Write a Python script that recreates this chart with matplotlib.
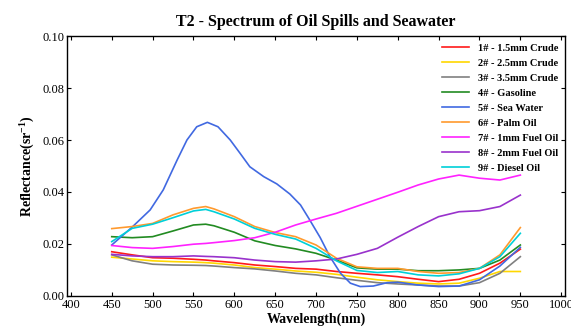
import numpy as np
import matplotlib
matplotlib.use('Agg')
import matplotlib.pyplot as plt

plt.rcParams['font.family'] = ['Liberation Serif', 'DejaVu Serif']
plt.rcParams['mathtext.fontset'] = 'custom'
plt.rcParams['mathtext.rm'] = 'Liberation Serif:bold'
plt.rcParams['mathtext.bf'] = 'Liberation Serif:bold'

wavelength = [450, 475, 500, 525, 550, 565, 575, 600, 625, 650, 675,
              700, 725, 750, 775, 800, 825, 850, 875, 900, 925, 950]

crude_15 = [0.0170, 0.0158, 0.0147, 0.0145, 0.0141, 0.0138, 0.0135, 0.0128, 0.0119, 0.0113, 0.0106,
            0.0103, 0.0094, 0.0087, 0.0081, 0.0074, 0.0064, 0.0055, 0.0064, 0.0087, 0.0126, 0.0180]
crude_25 = [0.0149, 0.0142, 0.0135, 0.0132, 0.0130, 0.0128, 0.0126, 0.0119, 0.0109, 0.0103, 0.0096,
            0.0091, 0.0083, 0.0072, 0.0062, 0.0055, 0.0049, 0.0046, 0.0049, 0.0068, 0.0094, 0.0094]
crude_35 = [0.0158, 0.0135, 0.0122, 0.0119, 0.0118, 0.0117, 0.0115, 0.0109, 0.0104, 0.0096, 0.0087,
            0.0081, 0.0070, 0.0060, 0.0051, 0.0046, 0.0042, 0.0038, 0.0038, 0.0051, 0.0087, 0.0151]
gasoline = [0.0228, 0.0224, 0.0228, 0.0250, 0.0273, 0.0276, 0.0270, 0.0245, 0.0212, 0.0194, 0.0181,
            0.0164, 0.0138, 0.0108, 0.0103, 0.0103, 0.0097, 0.0097, 0.0100, 0.0106, 0.0138, 0.0196]
palm_oil = [0.0259, 0.0267, 0.0279, 0.0312, 0.0337, 0.0344, 0.0335, 0.0305, 0.0267, 0.0244, 0.0228,
            0.0196, 0.0145, 0.0112, 0.0106, 0.0106, 0.0094, 0.0087, 0.0090, 0.0106, 0.0158, 0.0263]
fuel_1mm = [0.0194, 0.0186, 0.0183, 0.0190, 0.0199, 0.0202, 0.0205, 0.0213, 0.0224, 0.0245, 0.0273,
            0.0296, 0.0318, 0.0345, 0.0372, 0.0399, 0.0427, 0.0450, 0.0465, 0.0453, 0.0446, 0.0465]
fuel_2mm = [0.0160, 0.0154, 0.0151, 0.0151, 0.0154, 0.0152, 0.0151, 0.0147, 0.0138, 0.0132, 0.0130,
            0.0135, 0.0142, 0.0160, 0.0183, 0.0226, 0.0267, 0.0305, 0.0324, 0.0328, 0.0344, 0.0388]
diesel = [0.0209, 0.0260, 0.0276, 0.0301, 0.0327, 0.0333, 0.0324, 0.0296, 0.0260, 0.0237, 0.0219,
          0.0183, 0.0135, 0.0098, 0.0090, 0.0094, 0.0081, 0.0077, 0.0085, 0.0106, 0.0151, 0.0241]

# sea water read at its own, denser set of wavelengths (sharp peak)
sea_wl = [450, 475, 497, 513, 530, 542, 554, 567, 580, 595, 607, 619, 636, 652, 668, 681,
          691, 705, 717, 730, 742, 754, 770, 787, 800, 825, 850, 875, 900, 925, 950]
sea_water = [0.0196, 0.0265, 0.0331, 0.0408, 0.0523, 0.0600, 0.0651, 0.0668, 0.0651, 0.0600,
             0.0549, 0.0497, 0.0459, 0.0431, 0.0392, 0.0350, 0.0299, 0.0225, 0.0151, 0.0087,
             0.0049, 0.0036, 0.0038, 0.0051, 0.0053, 0.0042, 0.0036, 0.0038, 0.0062, 0.0115, 0.0187]

labels = ['1# - 1.5mm Crude', '2# - 2.5mm Crude', '3# - 3.5mm Crude', '4# - Gasoline',
          '5# - Sea Water', '6# - Palm Oil', '7# - 1mm Fuel Oil', '8# - 2mm Fuel Oil', '9# - Diesel Oil']
series = [crude_15, crude_25, crude_35, gasoline, sea_water, palm_oil, fuel_1mm, fuel_2mm, diesel]
xs = [wavelength] * 4 + [sea_wl] + [wavelength] * 4
colors = ['#ff1a1a', '#ffd700', '#808080', '#228b22', '#4169e1', '#ff9a2e', '#ff22ff', '#9932cc', '#00d0d8']

fig = plt.figure(figsize=(5.71, 3.31), dpi=100)
ax = fig.add_axes([0.117, 0.106, 0.873, 0.785])

for x, vals, lab, col in zip(xs, series, labels, colors):
    ax.plot(x, vals, color=col, lw=1.2, label=lab)

ax.set_xlim(395, 1005)
ax.set_ylim(0, 0.10)
ax.set_xticks(np.arange(400, 1001, 50))
ax.set_yticks(np.arange(0, 0.101, 0.02))
ax.yaxis.set_major_formatter(matplotlib.ticker.FormatStrFormatter('%.2f'))
ax.tick_params(direction='in', length=3, width=0.8, top=True, right=True, labelsize=9, pad=2)
for s in ax.spines.values():
    s.set_linewidth(1.0)

ax.set_title('T2 - Spectrum of Oil Spills and Seawater', fontsize=11.5, fontweight='bold', pad=7)
ax.set_xlabel('Wavelength(nm)', fontsize=10, fontweight='bold', labelpad=1)
ax.set_ylabel(r'Reflectance(sr$^{-1}$)', fontsize=10, fontweight='bold', labelpad=4)

ax.legend(loc='upper right', frameon=False, prop={'weight': 'bold', 'size': 7.5},
          handlelength=2.6, labelspacing=0.55, borderaxespad=0.3)

fig.savefig('out.png', dpi=100)
